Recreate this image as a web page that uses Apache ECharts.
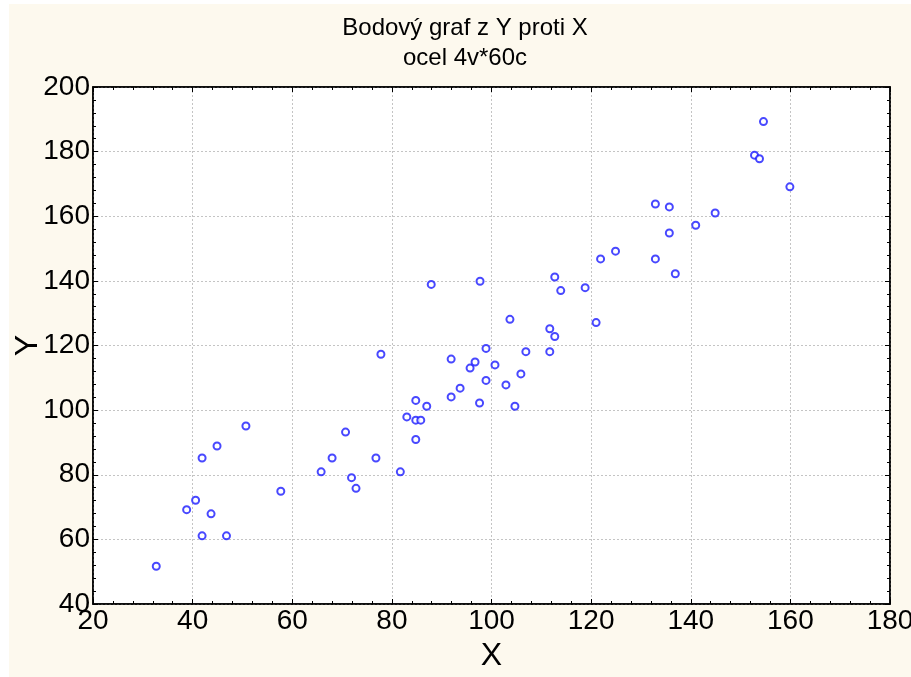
<!DOCTYPE html>
<html><head><meta charset="utf-8">
<script src="https://cdn.jsdelivr.net/npm/echarts@6/dist/echarts.min.js"></script>
<style>
html,body{margin:0;padding:0;background:#ffffff;width:911px;height:677px;overflow:hidden}
#c{position:absolute;left:9px;top:4px;width:902px;height:673px}
</style>
</head><body><div id="c"></div>
<script>
const titleText = ['Bodový graf z Y proti X', 'ocel 4v*60c'];
const xAxisName = 'X';
const yAxisName = 'Y';
const xTickValues = [20, 40, 60, 80, 100, 120, 140, 160, 180];
const yTickValues = [40, 60, 80, 100, 120, 140, 160, 180, 200];
const xValues = [32.7, 38.8, 40.6, 41.9, 41.9, 43.7, 44.9, 46.8, 50.7, 57.7,
  65.8, 68.0, 70.7, 71.9, 72.8, 76.8, 77.8, 81.7, 83.0, 84.8,
  84.8, 85.8, 84.8, 87.0, 87.9, 91.9, 91.9, 93.7, 95.7, 96.7,
  97.6, 97.7, 98.9, 98.9, 100.7, 102.9, 103.7, 104.7, 105.9, 106.9,
  111.7, 111.7, 112.7, 112.7, 113.9, 118.8, 121.0, 121.9, 124.9, 132.9,
  132.9, 135.7, 135.7, 136.9, 141.0, 144.9, 152.8, 153.8, 154.6, 159.9];
const yValues = [51.7, 69.2, 72.1, 85.2, 61.1, 67.9, 88.9, 61.1, 95.1, 74.9,
  80.9, 85.2, 93.2, 79.1, 75.8, 85.2, 117.3, 80.9, 97.9, 103.0,
  96.9, 96.9, 90.9, 101.2, 138.9, 115.8, 104.1, 106.8, 113.0, 114.9,
  102.2, 139.9, 119.1, 109.2, 114.0, 107.8, 128.1, 101.2, 111.2, 118.1,
  118.1, 125.2, 122.8, 141.2, 137.0, 137.9, 127.1, 146.8, 149.2, 146.8,
  163.8, 162.9, 154.8, 142.2, 157.2, 161.0, 178.9, 177.8, 189.3, 169.1];

const points = xValues.map((x, i) => [x, yValues[i]]);
const FONT = "'Liberation Sans Narrow', 'Arial Narrow', 'Liberation Sans', sans-serif";
const xMin = xTickValues[0], xMax = xTickValues[xTickValues.length - 1], xStep = xTickValues[1] - xTickValues[0];
const yMin = yTickValues[0], yMax = yTickValues[yTickValues.length - 1], yStep = yTickValues[1] - yTickValues[0];

function axisBase(min, max, step, showLabels, showSplit) {
  return {
    type: 'value', min: min, max: max, interval: step,
    axisLine: { show: true, onZero: false, lineStyle: { color: '#000', width: 1.5 } },
    axisTick: { show: true, inside: true, length: 5, lineStyle: { color: '#000', width: 1 } },
    minorTick: { show: true, splitNumber: 5, length: 3, lineStyle: { color: '#000', width: 1 } },
    splitLine: { show: showSplit, lineStyle: { color: '#c4c4c4', type: [2, 2], width: 1 } },
    axisLabel: { show: showLabels, color: '#000', fontFamily: FONT, fontSize: 28 }
  };
}

const chart = echarts.init(document.getElementById('c'), null, { renderer: 'canvas' });
const xBottom = Object.assign(axisBase(xMin, xMax, xStep, true, true), {
  position: 'bottom', name: xAxisName, nameLocation: 'middle', nameGap: 36, nameMoveOverlap: false,
  nameTextStyle: { color: '#000', fontFamily: FONT, fontSize: 32 }
});
xBottom.axisLabel.margin = 3;
const xTop = Object.assign(axisBase(xMin, xMax, xStep, false, false), { position: 'top' });
const yLeft = Object.assign(axisBase(yMin, yMax, yStep, true, true), {
  position: 'left', name: yAxisName, nameLocation: 'middle', nameGap: 49, nameMoveOverlap: false,
  nameTextStyle: { color: '#000', fontFamily: FONT, fontSize: 32 }
});
yLeft.axisLabel.margin = 3;
const yRight = Object.assign(axisBase(yMin, yMax, yStep, false, false), { position: 'right' });

chart.setOption({
  backgroundColor: '#fdf9ee',
  animation: false,
  title: {
    text: titleText.join('\n'), left: 456, top: 9, textAlign: 'center', padding: 0,
    textStyle: { color: '#000', fontFamily: FONT, fontSize: 24, fontWeight: 'normal', lineHeight: 30 }
  },
  grid: { left: 84, right: 21, top: 83, bottom: 73, outerBoundsMode: 'none', containLabel: false,
    show: true, backgroundColor: '#ffffff', borderColor: '#000', borderWidth: 1.5 },
  xAxis: [xBottom, xTop],
  yAxis: [yLeft, yRight],
  series: [{
    type: 'scatter', xAxisIndex: 0, yAxisIndex: 0, data: points,
    symbol: 'emptyCircle', symbolSize: 7,
    itemStyle: { color: '#1a1aff', borderColor: '#1a1aff', borderWidth: 1 }
  }]
});
</script></body></html>
